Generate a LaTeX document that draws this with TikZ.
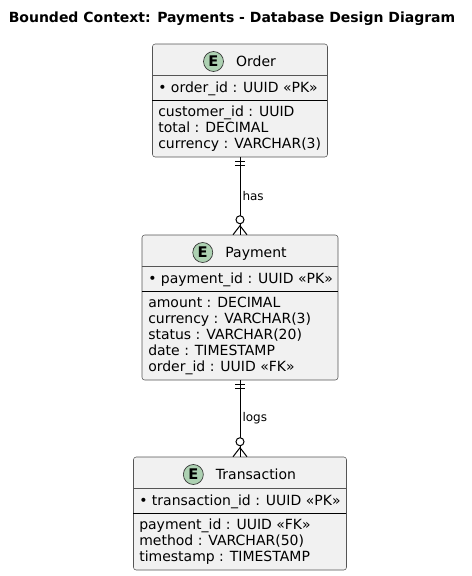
\documentclass[tikz,border=0pt]{standalone}
\usepackage{fontspec}
\setmainfont{DejaVu Sans}
\usetikzlibrary{positioning}
\definecolor{entfill}{RGB}{241,241,241}
\definecolor{entline}{RGB}{85,85,85}
\definecolor{spotfill}{RGB}{173,209,178}

\tikzset{
  one only/.pic={\draw[rel] (-5,4.7) -- (5,4.7) (-5,8) -- (5,8);},
  zero many/.pic={
    \draw[rel] (-7,0) -- (0,-9) -- (7,0);
    \draw[rel, fill=white] (0,-15) circle[radius=4];
  }
}

\begin{document}
\begin{tikzpicture}[x=0.75pt, y=-0.75pt,
    entity/.style={draw=entline, fill=entfill, rounded corners=2pt, line width=0.4pt, inner sep=0pt},
    spot/.style={circle, draw=black!80, fill=spotfill, line width=0.5pt, minimum size=15pt, inner sep=0pt,
      font=\bfseries\fontsize{11}{12}\selectfont},
    ename/.style={inner sep=0pt, text height=7.7pt, text depth=0pt, font=\fontsize{10.5}{12}\selectfont},
    attr/.style={anchor=base west, inner sep=0pt, font=\fontsize{10.5}{12}\selectfont},
    headsep/.style={draw=entline, line width=0.4pt},
    keysep/.style={draw=black, line width=0.75pt},
    rel/.style={draw=black, line width=0.75pt},
    lbl/.style={right, inner sep=1.5pt, font=\fontsize{9}{10}\selectfont}]

    \fill[white] (0,0) rectangle (472,576);
    \useasboundingbox (0,0) rectangle (472,576);

    \node[anchor=base, inner sep=0pt, font=\bfseries\fontsize{10.5}{12}\selectfont] (title) at (232,22.3)
        {Bounded Context: Payments - Database Design Diagram};

    % Order
    \node[entity, minimum width=131.25pt, minimum height=84.75pt] (order) at (240,100.5) {};
    \node[ename] (order-name) at (256,61.5) {Order};
    \node[spot, left=9pt of order-name] (order-spot) {E};
    \draw[headsep] (order.north west) ++(0,32) -- ++(175,0);
    \node[attr] (order-pk) at (158,92) {• order\_id : UUID «PK»};
    \draw[keysep] (order.north west) ++(0,56.5) -- ++(175,0);
    \foreach \t [count=\i] in {customer\_id : UUID, total : DECIMAL, currency : VARCHAR(3)}
        \node[attr] (order-a\i) at (158,100.5+16*\i) {\t};

    % Payment
    \node[entity, minimum width=147pt, minimum height=108.75pt] (payment) at (240,307.5) {};
    \node[ename] (payment-name) at (256,252.5) {Payment};
    \node[spot, left=9pt of payment-name] (payment-spot) {E};
    \draw[headsep] (payment.north west) ++(0,32) -- ++(196,0);
    \node[attr] (payment-pk) at (148,283) {• payment\_id : UUID «PK»};
    \draw[keysep] (payment.north west) ++(0,56.5) -- ++(196,0);
    \foreach \t [count=\i] in {amount : DECIMAL, currency : VARCHAR(3), status : VARCHAR(20),
        date : TIMESTAMP, order\_id : UUID «FK»}
        \node[attr] (payment-a\i) at (148,291.5+16*\i) {\t};

    % Transaction
    \node[entity, minimum width=159.75pt, minimum height=84.75pt] (transaction) at (240,513.5) {};
    \node[ename] (transaction-name) at (256,474.5) {Transaction};
    \node[spot, left=9pt of transaction-name] (transaction-spot) {E};
    \draw[headsep] (transaction.north west) ++(0,32) -- ++(213,0);
    \node[attr] (transaction-pk) at (139,505) {• transaction\_id : UUID «PK»};
    \draw[keysep] (transaction.north west) ++(0,56.5) -- ++(213,0);
    \foreach \t [count=\i] in {payment\_id : UUID «FK», method : VARCHAR(50), timestamp : TIMESTAMP}
        \node[attr] (transaction-a\i) at (139,513.5+16*\i) {\t};

    % relations
    \draw[rel] (order.south) -- node[lbl] (has) {has} (payment.north);
    \pic at (order.south) {one only};
    \pic at (payment.north) {zero many};

    \draw[rel] (payment.south) -- node[lbl] (logs) {logs} (transaction.north);
    \pic at (payment.south) {one only};
    \pic at (transaction.north) {zero many};
\end{tikzpicture}
\end{document}
